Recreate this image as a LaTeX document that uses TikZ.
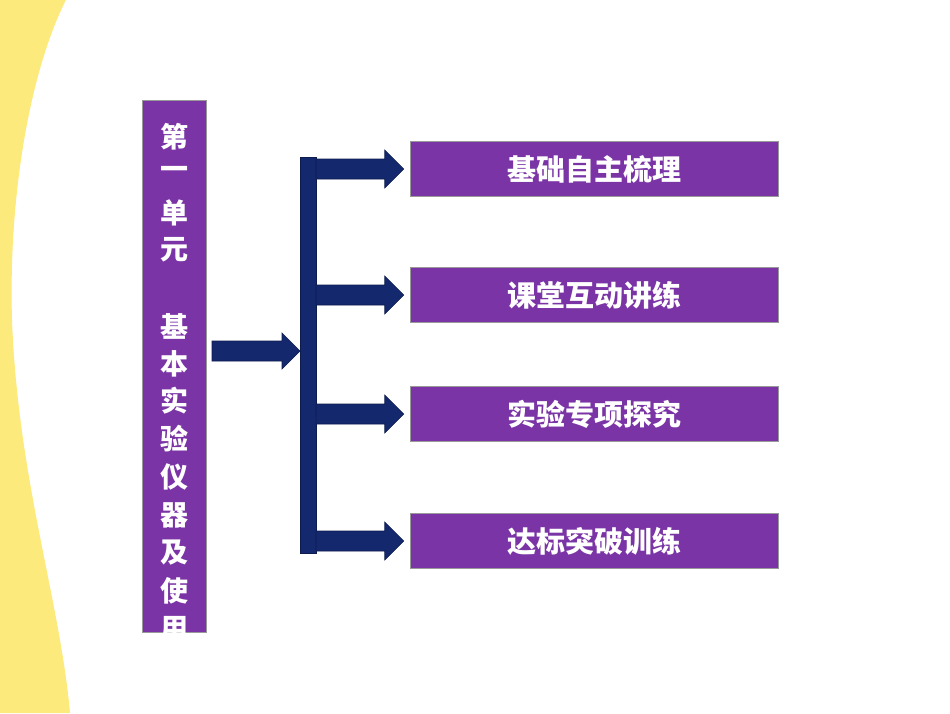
\documentclass[tikz,border=0pt]{standalone}
\usepackage{fontspec}
\usetikzlibrary{calc}
\newfontfamily\cjk{Noto Sans CJK SC}
\begin{document}
\begin{tikzpicture}[x=1pt,y=-1pt]
\definecolor{navycol}{RGB}{20,40,110}
\definecolor{purp}{RGB}{122,52,165}
\definecolor{yel}{RGB}{253,234,125}
\tikzset{
  pbox/.style={fill=purp, draw=black!40, line width=0.5pt, minimum width=368pt, minimum height=55pt, inner sep=0pt, text=white, font=\cjk\bfseries\fontsize{29}{32}\selectfont},
  vch/.style={text=white, font=\cjk\bfseries\fontsize{28}{31}\selectfont, inner sep=0pt},
  arr/.style={fill=navycol, draw=navycol!70!black, line width=0.6pt}}
\useasboundingbox (0,0) rectangle (950,713);
\fill[white] (0,0) rectangle (950,713);
\fill[yel] (0,0) -- (66,0) .. controls (35,60) and (8,180) .. (12,320) .. controls (18,480) and (60,600) .. (70,713) -- (0,713) -- cycle;
% left box
\node[fill=purp, draw=black!40, minimum width=64pt, minimum height=532pt, inner sep=0pt] (L) at (174,366) {};
\begin{scope}
\clip (142,100) rectangle (206,632);
\foreach \c/\yy [count=\i] in {第/137,一/173,单/213,元/250,基/326,本/364,实/401,验/439,仪/477,器/515,及/553,使/591,用/629}
  \node[vch] (v\i) at (174,\yy) {\c};
\end{scope}
% boxes
\node[pbox] (b1) at (594,169) {基础自主梳理};
\node[pbox] (b2) at (594,295) {课堂互动讲练};
\node[pbox] (b3) at (594,414) {实验专项探究};
\node[pbox] (b4) at (594,541) {达标突破训练};
% bar
\fill[arr] (300,157) rectangle (316,553);
\coordinate (bar) at (300,351);
\coordinate (ms) at (212,351);
% main arrow
\fill[arr] ($(ms)+(0,-10)$) -- ($(bar)+(-18,-10)$) -- ($(bar)+(-18,-18)$) -- (bar) -- ($(bar)+(-18,18)$) -- ($(bar)+(-18,10)$) -- ($(ms)+(0,10)$) -- cycle;
% branch arrows
\foreach \k in {1,2,3,4}{
  \coordinate (s\k) at (316,0 |- b\k.west);
  \fill[arr] ($(s\k)+(0,-10)$) -- ($(b\k.west)+(-25,-10)$) -- ($(b\k.west)+(-25,-19)$) -- ($(b\k.west)+(-6,0)$) -- ($(b\k.west)+(-25,19)$) -- ($(b\k.west)+(-25,10)$) -- ($(s\k)+(0,10)$) -- cycle;
}
\end{tikzpicture}
\end{document}
